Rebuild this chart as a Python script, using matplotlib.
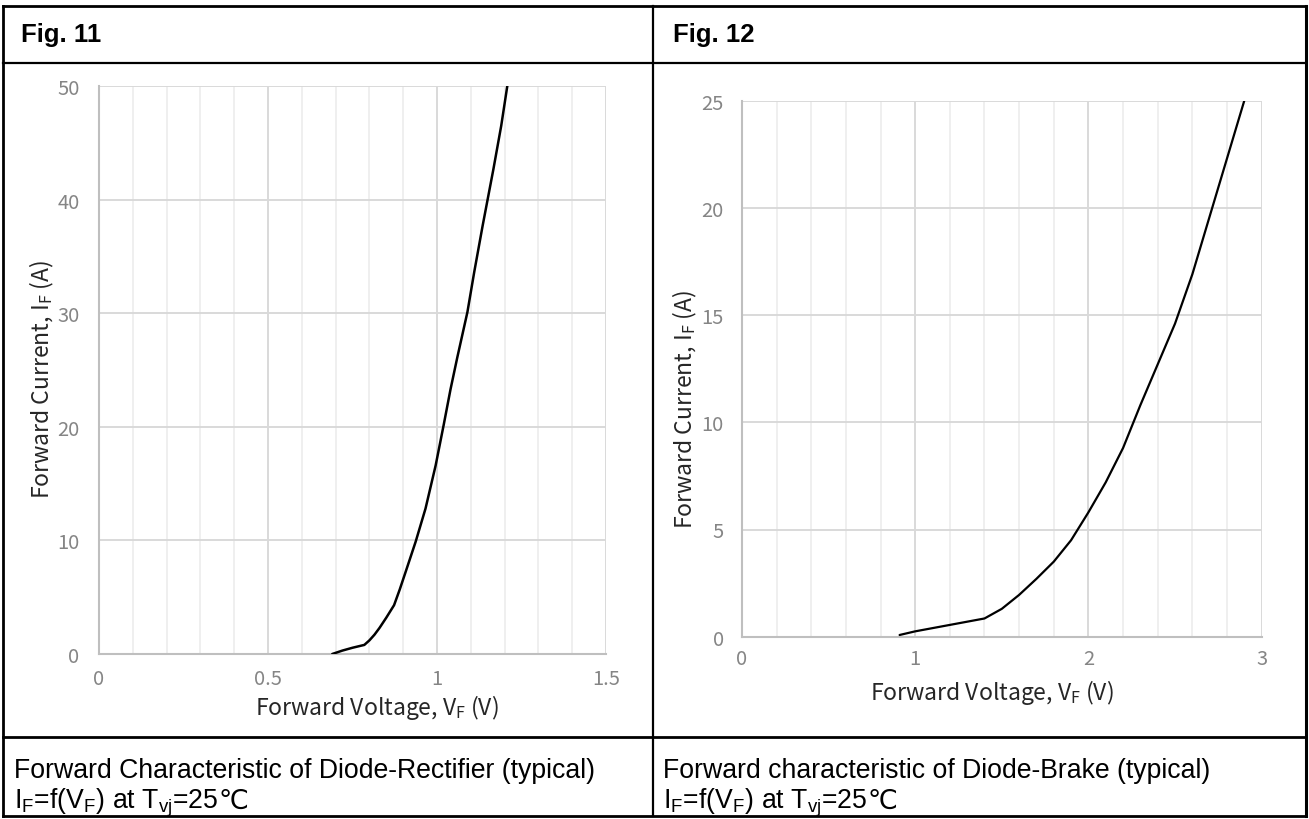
import matplotlib
matplotlib.use("Agg")
import matplotlib.pyplot as plt
from matplotlib.lines import Line2D
import numpy as np

# Fig. 11 - rectifier diode forward characteristic
rect_vf = [0.69, 0.72, 0.75, 0.785, 0.80, 0.815, 0.83, 0.85, 0.873, 0.89, 0.908, 0.937,
           0.966, 0.996, 1.02, 1.04, 1.06, 1.09, 1.11, 1.135, 1.167, 1.19, 1.208]
rect_if = [0.0, 0.3, 0.55, 0.8, 1.2, 1.7, 2.3, 3.2, 4.3, 5.7, 7.3, 9.9,
           12.8, 16.6, 20.2, 23.3, 26.1, 30.1, 33.6, 37.7, 42.7, 46.5, 50.0]
rect_xticks = [0, 0.5, 1, 1.5]
rect_xtick_labels = ["0", "0.5", "1", "1.5"]
rect_yticks = [0, 10, 20, 30, 40, 50]

# Fig. 12 - brake diode forward characteristic
brake_vf = [0.91, 1.0, 1.2, 1.4, 1.5, 1.6, 1.7, 1.8, 1.9, 2.0,
            2.1, 2.2, 2.3, 2.4, 2.5, 2.6, 2.7, 2.8, 2.9]
brake_if = [0.08, 0.25, 0.55, 0.85, 1.3, 1.95, 2.7, 3.5, 4.5, 5.8,
            7.2, 8.8, 10.8, 12.7, 14.6, 16.9, 19.6, 22.3, 25.0]
brake_xticks = [0, 1, 2, 3]
brake_yticks = [0, 5, 10, 15, 20, 25]

W, H = 1309, 820
fig = plt.figure(figsize=(W / 100, H / 100), dpi=100)


def fx(px):
    return px / W


def fy(py):
    return 1 - py / H


TICK_FAMILY = ["Noto Sans CJK KR", "DejaVu Sans"]
LABEL_FONT = ["Noto Sans CJK KR", "DejaVu Sans"]
TABLE_FONT = ["Liberation Sans", "DejaVu Sans"]


def style_axes(ax, xmax, xminor, ymax, xticks, xlabels, yticks, xpad, ypad):
    ax.set_xlim(0, xmax)
    ax.set_ylim(0, ymax)
    ax.set_xticks(xticks)
    ax.set_xticklabels(xlabels)
    ax.set_yticks(yticks)
    for v in np.arange(0, xmax + 1e-9, xminor):
        major = any(abs(v - t) < 1e-9 for t in xticks)
        if v > 0:
            ax.axvline(v, color="#d9d9d9" if major else "#ececec",
                       lw=1.4 if major else 1.2, zorder=0)
    for v in yticks[1:]:
        ax.axhline(v, color="#d9d9d9", lw=1.4, zorder=0)
    for s in ["top", "right"]:
        ax.spines[s].set_visible(False)
    for s in ["left", "bottom"]:
        ax.spines[s].set_color("#bfbfbf")
        ax.spines[s].set_linewidth(1.5)
    ax.tick_params(which="both", length=0)
    ax.tick_params(axis="x", pad=xpad, labelsize=14.5, labelcolor="#858585")
    ax.tick_params(axis="y", pad=ypad, labelsize=14.5, labelcolor="#858585")
    for lab in ax.get_xticklabels() + ax.get_yticklabels():
        lab.set_fontfamily(TICK_FAMILY)
        lab.set_fontweight("light")


# Left chart
ax1 = fig.add_axes([fx(99), fy(655), fx(606) - fx(99), fy(87) - fy(655)])
style_axes(ax1, 1.5, 0.1, 50, rect_xticks, rect_xtick_labels,
           rect_yticks, 10, 14)
ax1.plot(rect_vf, rect_if, color="black", lw=1.8, solid_capstyle="round",
         solid_joinstyle="round", zorder=3)

# Right chart
ax2 = fig.add_axes([fx(742), fy(637.7), fx(1261.6) - fx(742), fy(101.7) - fy(637.7)])
style_axes(ax2, 3, 0.2, 25, brake_xticks, [str(t) for t in brake_xticks],
           brake_yticks, 8, 13)
ax2.plot(brake_vf, brake_if, color="black", lw=1.6, solid_capstyle="round",
         solid_joinstyle="round", zorder=3)

# Axis titles
lab_kw = dict(family=LABEL_FONT, color="#262626", fontsize=16.5, ha="center", va="center")
fig.text(fx(377), fy(708), r"Forward Voltage, V$_\mathregular{F}$ (V)", **lab_kw)
fig.text(fx(42), fy(380), r"Forward Current, I$_\mathregular{F}$ (A)", rotation=90, **lab_kw)
fig.text(fx(992), fy(693), r"Forward Voltage, V$_\mathregular{F}$ (V)", **lab_kw)
fig.text(fx(685), fy(410), r"Forward Current, I$_\mathregular{F}$ (A)", rotation=90, **lab_kw)


# Table frame
def hline(y, x0, x1, lw):
    fig.add_artist(Line2D([fx(x0), fx(x1)], [fy(y), fy(y)], color="black", lw=lw,
                          solid_capstyle="projecting"))


def vline(x, y0, y1, lw):
    fig.add_artist(Line2D([fx(x), fx(x)], [fy(y0), fy(y1)], color="black", lw=lw,
                          solid_capstyle="projecting"))


hline(7, 2.5, 1305.5, 2.0)
hline(817, 2.5, 1305.5, 2.0)
hline(63.5, 2.5, 1305.5, 1.6)
hline(737.5, 2.5, 1305.5, 2.0)
vline(2.5, 7, 817, 2.0)
vline(1305.5, 7, 817, 2.2)
vline(652.5, 7, 817, 1.6)

# Table text
fig.text(fx(21), fy(35), "Fig. 11", family=TABLE_FONT, fontweight="bold",
         fontsize=18.5, ha="left", va="center")
fig.text(fx(673), fy(35), "Fig. 12", family=TABLE_FONT, fontweight="bold",
         fontsize=18.5, ha="left", va="center")

CAP_SIZE = 19.2
cap_kw = dict(family=TABLE_FONT, fontsize=CAP_SIZE, ha="left", color="black")


def caption(x, title):
    fig.text(fx(x), fy(778), title, va="baseline", **cap_kw)
    yb = fy(809)
    t = fig.text(fx(x), yb,
                 r"I$_\mathregular{F}$=f(V$_\mathregular{F}$) at T$_\mathregular{vj}$=25",
                 va="baseline", **cap_kw)
    fig.add_artist(plt.Annotation("℃", xy=(1, yb), xycoords=(t, "figure fraction"),
                                  ha="left", va="baseline", fontsize=CAP_SIZE,
                                  family=["DejaVu Sans"], color="black"))


caption(14, "Forward Characteristic of Diode-Rectifier (typical)")
caption(663, "Forward characteristic of Diode-Brake (typical)")

fig.savefig("out.png", dpi=100)
